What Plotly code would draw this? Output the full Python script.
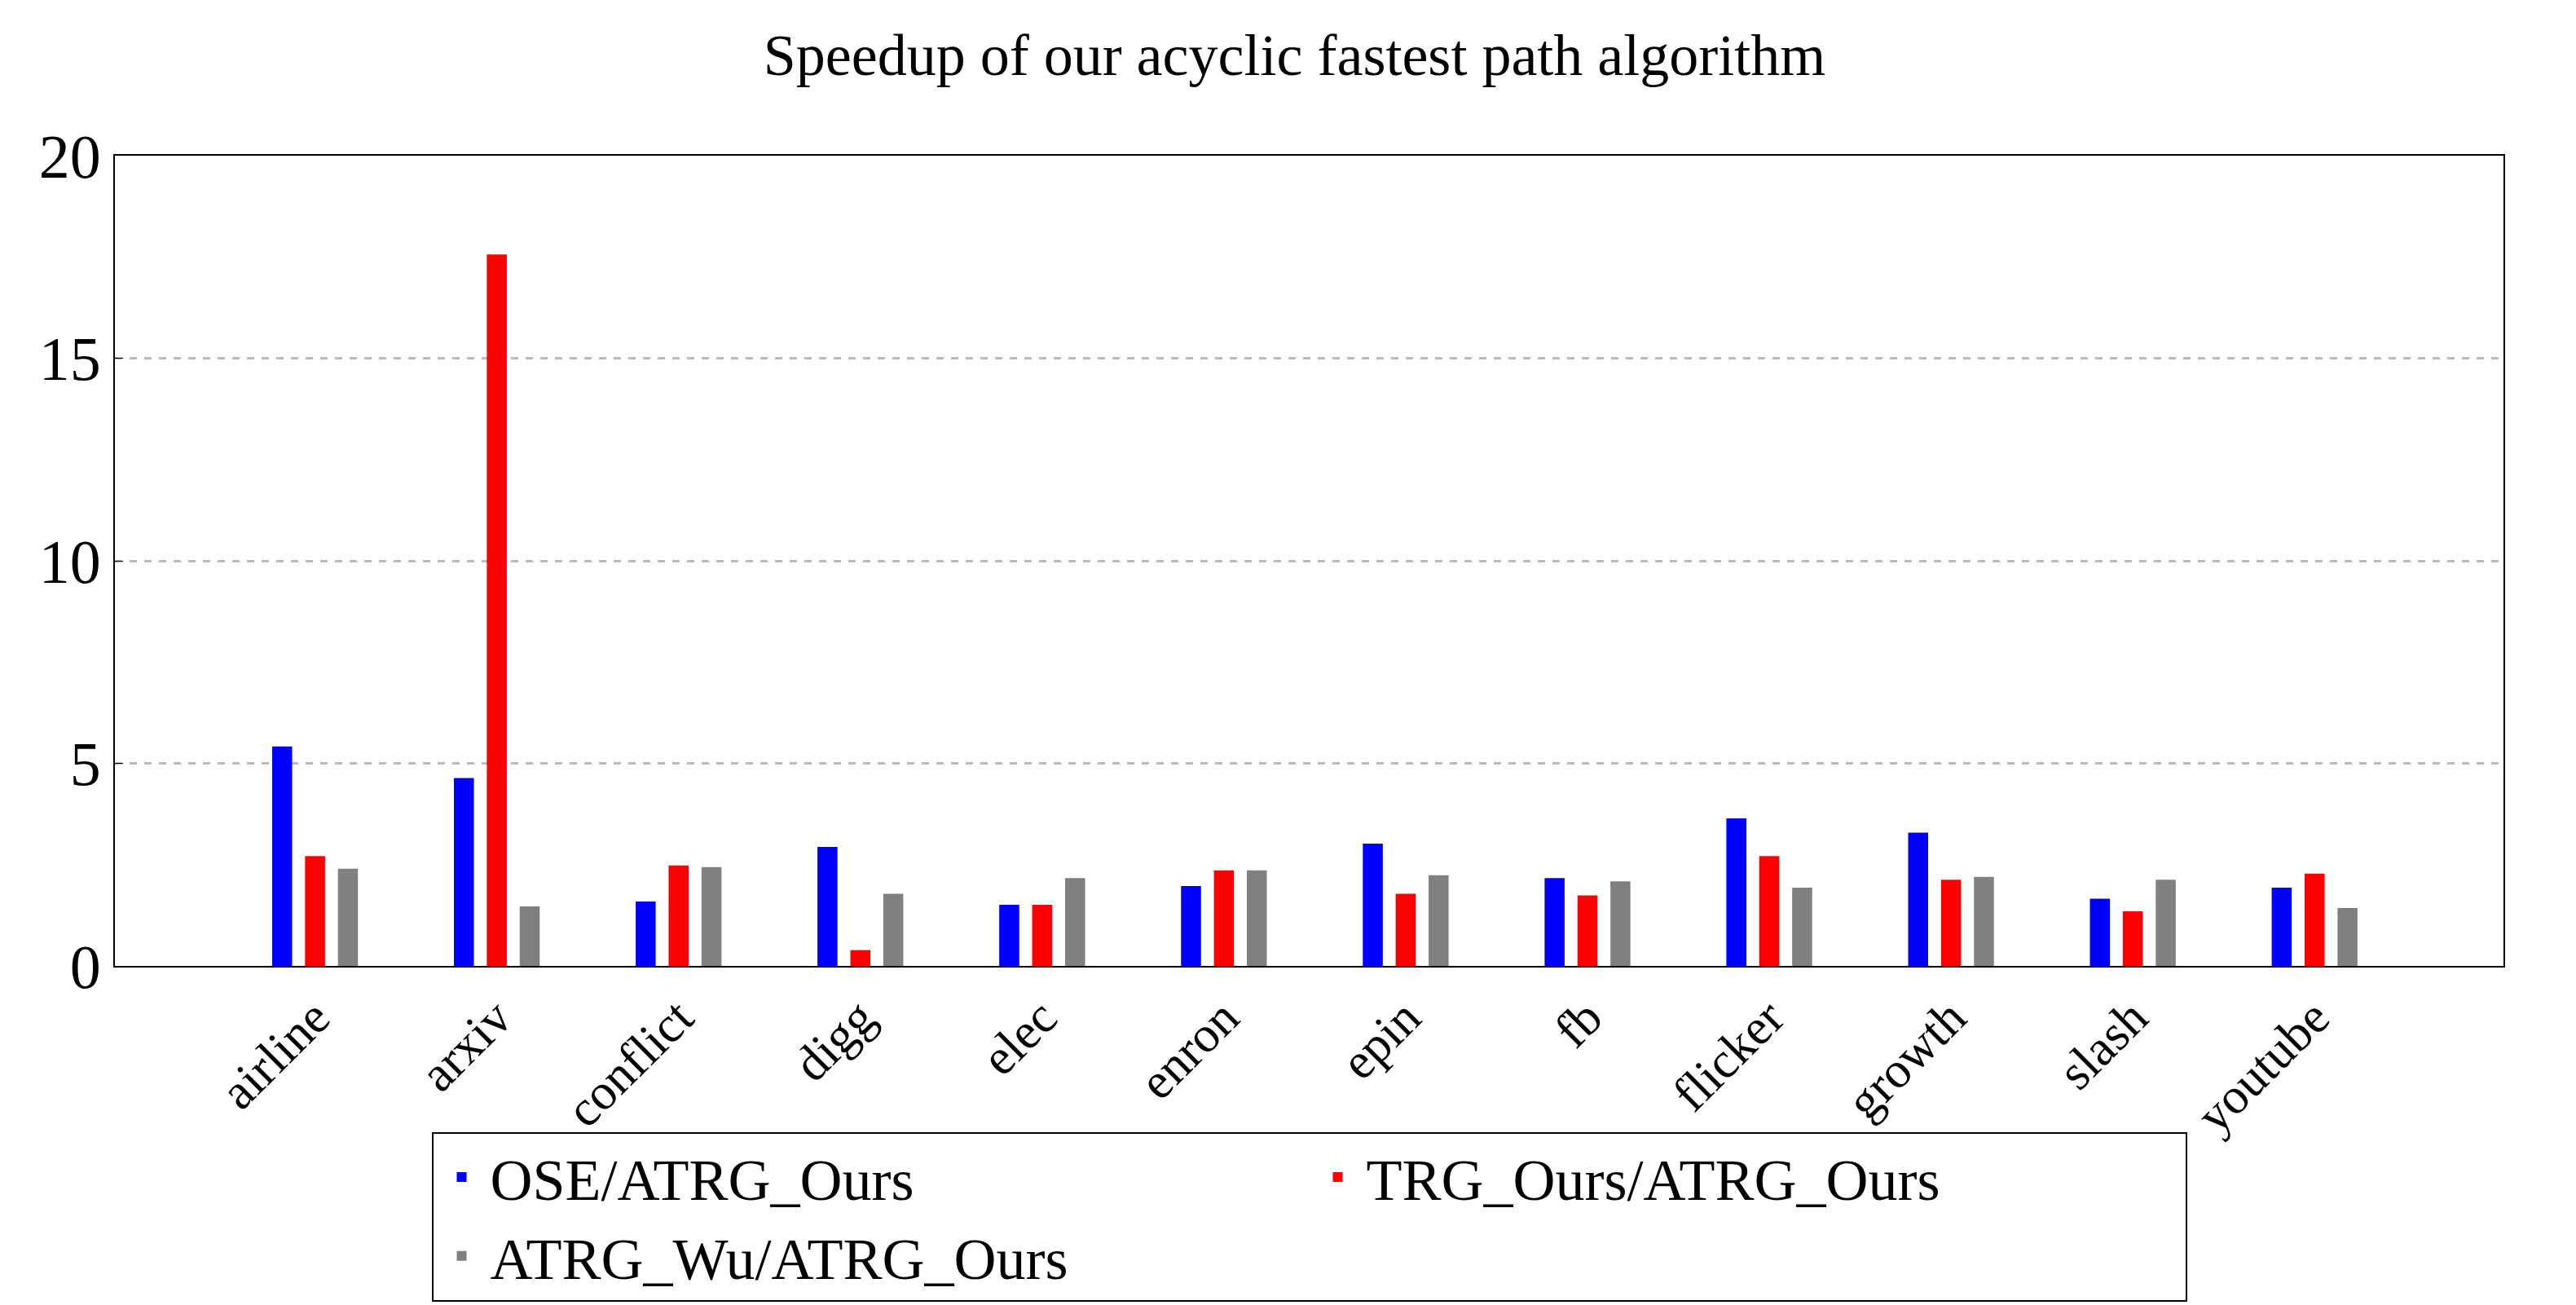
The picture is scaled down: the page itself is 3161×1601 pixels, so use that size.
import plotly.graph_objects as go

categories = ["airline","arxiv","conflict","digg","elec","enron","epin","fb","flicker","growth","slash","youtube"]
ose = [5.42,4.64,1.59,2.94,1.51,1.97,3.02,2.17,3.64,3.29,1.66,1.93]
trg = [2.71,17.56,2.48,0.39,1.51,2.36,1.78,1.74,2.71,2.13,1.35,2.28]
wu  = [2.40,1.47,2.44,1.78,2.17,2.36,2.24,2.09,1.93,2.20,2.13,1.43]
names = ["OSE/ATRG_Ours","TRG_Ours/ATRG_Ours","ATRG_Wu/ATRG_Ours"]
colors = ["#0000ff","#ff0000","#808080"]
offsets = [-0.235,-0.054,0.127]

fig = go.Figure()
for vals, n, c, o in zip([ose,trg,wu], names, colors, offsets):
    fig.add_trace(go.Bar(x=categories, y=vals, name=n, marker=dict(color=c, line=dict(width=0)),
                         width=0.11, offset=o))

font = "Liberation Serif"
fig.update_layout(
    width=3161, height=1601, plot_bgcolor="white", paper_bgcolor="white",
    margin=dict(l=133, r=97, t=183, b=375),
    title=dict(text="Speedup of our acyclic fastest path algorithm", x=0.5, xanchor="center",
               y=0.963, yanchor="middle", font=dict(family=font, size=72, color="black")),
    barmode="overlay", showlegend=True,
    legend=dict(orientation="h", x=0.5, xanchor="center", y=-0.205, yanchor="top",
                bordercolor="black", borderwidth=2, font=dict(family=font, size=72, color="black"),
                itemwidth=60, entrywidth=1000),
    font=dict(family=font, color="black"),
)
fig.update_xaxes(range=[-1.1,12.04], showline=True, linecolor="black", linewidth=2, mirror=True,
                 tickangle=-45, tickfont=dict(family=font, size=62, color="black"), ticks="")
fig.update_yaxes(range=[0,20], tickvals=[0,5,10,15,20], showline=True, linecolor="black", linewidth=2,
                 mirror=True, showgrid=True, gridcolor="#bbbbbb", griddash="dash", gridwidth=3,
                 zeroline=False, ticks="inside", ticklen=10, tickcolor="black",
                 tickfont=dict(family=font, size=76, color="black"))
fig.write_html("out.html")
